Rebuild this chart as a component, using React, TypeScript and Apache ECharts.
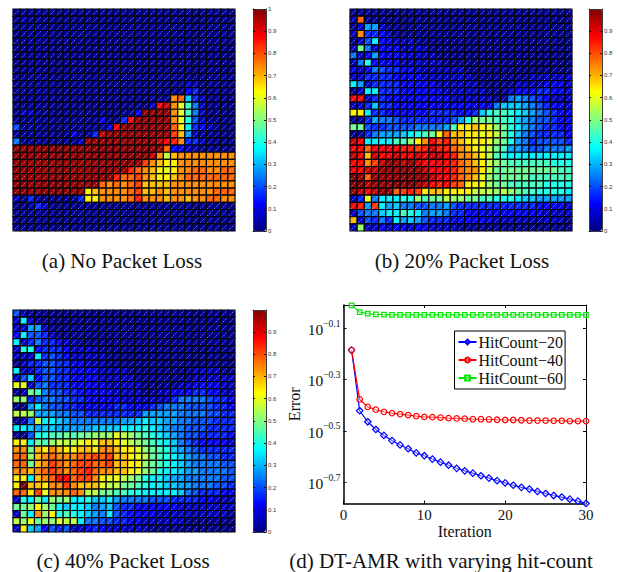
import React, { useEffect, useRef } from "react";
import * as echarts from "echarts";

// Colour-level code for a cell value.
const levelCodes = "abcdefghijklmnopqrstuvwxyz";
const levelValues = [0, 0.02, 0.07, 0.12, 0.16, 0.2, 0.24, 0.28, 0.32, 0.36, 0.4, 0.44, 0.48, 0.52, 0.56, 0.6, 0.64, 0.69, 0.74, 0.78, 0.82, 0.85, 0.88, 0.93, 0.98, 1];

const noLossRows = [
  "bbbbb bbbbb bbbbb bbbbb bbbbb bbbbb b",
  "bcbbb bbbbb bbbbb bbbbb bbbbb bbbbb b",
  "bbbbb bbbbb bbbbb bbbbb bbbbb bbbbb b",
  "bbbbb bbbbb bbbbb bbbbb bbbbb bbbbb b",
  "bbbbb bbbbb bbbbb bbbbb bbbbb bbbbb b",
  "bbbbb bbbbb bbbbb bbbbb bbbbb bbbbb b",
  "bbbbb bbbbb bbbbb bbbbb bbbbb bbbbb b",
  "bbbbb bbbbb bbbbb bbbbb bbbbb bbbbb b",
  "bbbbb bbbbb bbbbb bbbbb bbbbb bbbbb b",
  "bbbbb bbbbb bbbbb bbbbb bbbbb bbbbb b",
  "bbbbb bbbbb bbbbb bbbbb bbbbc cbbbb b",
  "bbbbb bbbbb bbbbb bbbbb bbbbd ebbbb b",
  "bbbbb bbbbb bbbbb bbbbb bbsti ecbbb b",
  "bbbbb bbbbb bbbbb bbbbc wxspl gcbbb b",
  "bccbb bbbbb bbbbb bbdyy yyspl gcbbb b",
  "bbbbb bbbbb bbdbb ewyyy yyspk fcbbb b",
  "fbbbb bbbbb bbbdw yyyyy yytqj edcbb b",
  "bbbbb bbbdb bexyy yyyyy yyurh cbbbb b",
  "gbbbb bbbbc yyyyy yyyyy xwvse ecbbb b",
  "yyyyy yyyyy yyyyy yyyyy ytddc cbbbb b",
  "yyyyy yyyyy yyyyy yyyyx sorss sssss s",
  "yyyyy yyyyy yyyyy yyyus rqqss sssss s",
  "yyyyy yyyyy yyyyy yvtsr qpqss ttsst t",
  "yyyyy yyyyy yyyyv ttusr qqrst ttttt t",
  "yyyyy yyyyy yytst sturr rrsss sssss s",
  "yyyyy yyyyy qrsss sturr srsss ssstt t",
  "cbebb bbbbe qqsss stvss srssr sstts s",
  "bbbec bbbbb bbbbb bbbbb bbbbb bbbbb b",
  "bbbbb bbbbb bbbbb bbbbb bbbbb bbbbb b",
  "bbbbb bbbbb bbbbb bbbbb bbbbb bbbbb b",
  "bbbbb bbbbb bbbbb bbbbb bbbbb bbbbb b",
];
const loss20Rows = [
  "bbbbb bbbbb bbbbb bbbbb bbbbb bbbbb b",
  "ctbbb bbbbb bbbbb bbbbb bbbbb bbbbb b",
  "bchhc bbbbb bbbbb bbbbb bbbbb bbbbb b",
  "cseed cbbbb bbbbb bbbbb bbbbb bbbbb b",
  "bcfjd dcccb bbbbb bbbbb bbbbb bbbbb b",
  "cmgcd ddccc cbbbb bbbbb bbbbb bbbbb b",
  "gcdhd dddcc ccbbb bbbbb bbbbb bbbbb b",
  "cgkdd ddccc cccbb bbbbb bbbbb bbbbb b",
  "dcdgf eeddc ccccc cbbbb bbbbb bbbbb b",
  "cceee edddd ccccc ccbbb bbbbb ccccc c",
  "jhcee eeddd ddccc cccbb bbbcc ccddd c",
  "bcjje eeddd dddcc ccccb bbcdd deedd c",
  "wwcee ddddd ddddc ccccc bbghg fedcc c",
  "cceie edddd ddddd ddddd giiih gfedd c",
  "qqjee ddddd deeee ddeik llkji hgfed d",
  "bbehg gfeee eeeef hknmm llkih gffed d",
  "mmfee ffffg ggghl qqrqp nmkjh gfeed d",
  "bbegh hhijk lmqtr rqqpq omkig feeee d",
  "xwjjj jllnq swuvs rqqqp nmkhg effff e",
  "wwtww wwvvu vxvvt srqpo mlhhg ffggg h",
  "xwrxw wxwwx wxxwv ssrqo lkjjj jjjjj j",
  "wwsux yyxyx wwwwv tsrqo nmlll lllkk k",
  "wwxxy yyyyy xwwwv tssqo mmmmm mmmml l",
  "zytyy yyyzy yxwwv tsrpn mmmmm lllll l",
  "zzxyy yzyzy xwvwu tqqpn mmlll llkkk k",
  "yxwxy ytuvu qrrqq qqooo nonml lkkkk j",
  "cepgj jjkkn lmmon nmmll kkkji ihhhh h",
  "wvhuj higgf fgghf eeeee eeeee edddd c",
  "cfggi jjlkj ghhge edddd ddddd ddccc c",
  "rcfeg ejhih feeed ddddd ccccc ccccc b",
  "cnccd cddcd dcccc bbbbb bbbbb bbbbb b",
];
const loss40Rows = [
  "fcbbb bbbbb bbbbb bbbbb bbbbb bbbbb b",
  "cjcbb bbbbb bbbbb bbbbb bbbbb bbbbb b",
  "cchhc bbbbb bbbbb bbbbb bbbbb bbbbb b",
  "djffe cbbbb bbbbb bbbbb bbbbb bbbbb b",
  "jcege edccb bbbbb bbbbb bbbbb bbbbb b",
  "ckkde eedcc ccbbb bbbbb bbbbb bbbbb b",
  "cccje fedcc cccbb bbbbb bbbbb bbbbb b",
  "bceef feedd cccbb bbbbb bbbbb bbbbb b",
  "jccef feedd ddccc cbbbb bbbbb ccccb b",
  "cfidf feedd ddccc ccbbb bbbbb ccccc c",
  "ppcfg eeedd dddcc cccbb bbbcc ddddc c",
  "bcmlg ffeed ddddc cccbb ccddd eeddc c",
  "nnefg gffee ddddd ccccc ccegg ggfee d",
  "bbhjg ffeed dddde eddde fgggf fffee d",
  "oonhh hggff eeeee eeehh hhhgg ggffe e",
  "bcgoj jihgg ggggg hhiji ihhgg fffee e",
  "jjihi ihhhh hiiii jjjkj ihggf ffeee e",
  "bbfkk llmlm mnnnp onmlk jihgf feeee d",
  "qqjml nooop qprrq ponml kjigf edddd c",
  "ssmrq srqqr rqssr qqpnm lkihg feeee e",
  "ttnrs tssst tutur rqpom lkjih ggffe e",
  "ttmrs utstu uttur rqqnm lkjih ggggf f",
  "ssrst utstu vtssr rqpnm kjjih hgggg f",
  "qqjrs twwtu usqpp onmkj jihhg ggggf f",
  "qzrrq ssusr rrpoo mmlkj jiihh gggff e",
  "ttqup sssts oomml lkkjj jjjig feeed d",
  "ckjmj nmnjj kiijh ggggf ffeee eddcc c",
  "mmnqn mjijj ighif eeddd dddcc ccccc c",
  "cmjsn qklkj ihgjf edddd ccccc ccccc b",
  "onpmn npooj ggffe eddcc ccccb bbbbb b",
  "cqihd fefcc dedcc ccccb bbbbb bbbbb b",
];

const iterations = [1, 2, 3, 4, 5, 6, 7, 8, 9, 10, 11, 12, 13, 14, 15, 16, 17, 18, 19, 20, 21, 22, 23, 24, 25, 26, 27, 28, 29, 30];
// log10(Error)
const hit20 = [-0.186, -0.422, -0.465, -0.495, -0.518, -0.538, -0.555, -0.57, -0.586, -0.597, -0.61, -0.622, -0.634, -0.646, -0.656, -0.665, -0.675, -0.684, -0.694, -0.703, -0.712, -0.72, -0.727, -0.736, -0.744, -0.752, -0.758, -0.766, -0.774, -0.783];
const hit40 = [-0.186, -0.378, -0.407, -0.418, -0.426, -0.431, -0.435, -0.439, -0.443, -0.446, -0.447, -0.449, -0.451, -0.452, -0.453, -0.455, -0.455, -0.456, -0.457, -0.458, -0.458, -0.459, -0.46, -0.46, -0.46, -0.461, -0.461, -0.462, -0.462, -0.462];
const hit60 = [-0.012, -0.038, -0.044, -0.047, -0.048, -0.049, -0.049, -0.049, -0.049, -0.049, -0.049, -0.049, -0.049, -0.049, -0.049, -0.049, -0.049, -0.049, -0.049, -0.049, -0.049, -0.049, -0.049, -0.049, -0.049, -0.049, -0.049, -0.049, -0.049, -0.049];
const errorTicks = [-0.7, -0.5, -0.3, -0.1];
const iterTicks = [0, 10, 20, 30];
const colorTicks = [0, 0.1, 0.2, 0.3, 0.4, 0.5, 0.6, 0.7, 0.8, 0.9];
const colorTicksFull = [...colorTicks, 1];
const jet = ["#000080", "#0000ff", "#0080ff", "#00ffff", "#80ff80", "#ffff00", "#ff8000", "#ff0000", "#800000"];

const captions = [
  { text: "(a) No Packet Loss", x: 122, y: 261 },
  { text: "(b) 20% Packet Loss", x: 462, y: 261 },
  { text: "(c) 40% Packet Loss", x: 123, y: 561 },
  { text: "(d) DT-AMR with varying hit-count", x: 441, y: 561 },
];

const SERIF = "Liberation Serif";
const SANS = "Liberation Sans";
const N = 31;

function decode(rows: string[]) {
  const out: number[][] = [];
  rows.forEach((row, r) => {
    row.replace(/ /g, "").split("").forEach((ch, c) => {
      out.push([c, r, levelValues[levelCodes.indexOf(ch)]]);
    });
  });
  return out;
}

function renderCell(_: any, api: any) {
  const c = api.value(0);
  const r = api.value(1);
  const p0 = api.coord([c, r + 1]);
  const p1 = api.coord([c + 1, r]);
  return {
    type: "group",
    children: [
      {
        type: "rect",
        shape: { x: p0[0], y: p1[1], width: p1[0] - p0[0], height: p0[1] - p1[1] },
        style: { fill: api.visual("color"), stroke: "#04040c", lineWidth: 1.2 },
      },
      {
        type: "line",
        shape: { x1: p0[0] + 0.6, y1: p0[1] - 0.6, x2: p1[0] - 0.6, y2: p1[1] + 0.6 },
        style: { stroke: "rgba(255,255,255,0.5)", lineWidth: 1, lineDash: [1.4, 1] },
      },
    ],
  };
}

const panels = [
  { rows: noLossRows, x: 13, y: 9, barX: 253, max: 1, ticks: colorTicksFull },
  { rows: loss20Rows, x: 350, y: 9, barX: 589, max: 0.998, ticks: colorTicks },
  { rows: loss40Rows, x: 13, y: 310, barX: 253, max: 0.998, ticks: colorTicks },
];

function buildOption() {
  const grid: any[] = [];
  const xAxis: any[] = [];
  const yAxis: any[] = [];
  const series: any[] = [];
  const visualMap: any[] = [];

  panels.forEach((p, i) => {
    const gi = grid.length;
    grid.push({ left: p.x, top: p.y, width: 222, height: 222 });
    xAxis.push({ gridIndex: gi, type: "value", min: 0, max: N, show: false });
    yAxis.push({ gridIndex: gi, type: "value", min: 0, max: N, inverse: true, show: false });
    series.push({
      type: "custom",
      name: "panel" + i,
      xAxisIndex: xAxis.length - 1,
      yAxisIndex: yAxis.length - 1,
      data: decode(p.rows),
      renderItem: renderCell,
      encode: { x: 0, y: 1 },
      silent: true,
    });
    visualMap.push({
      type: "continuous",
      seriesIndex: series.length - 1,
      dimension: 2,
      min: 0,
      max: p.max,
      left: p.barX,
      top: p.y,
      itemWidth: 13,
      itemHeight: 222,
      padding: 0,
      calculable: false,
      hoverLink: false,
      inRange: { color: jet },
    });

    const bi = grid.length;
    grid.push({ left: p.barX, top: p.y, width: 13, height: 222 });
    const lineStyle = { color: "#3a3a3a", width: 1 };
    const ticks = { show: true, inside: true, length: 2, customValues: p.ticks, lineStyle: { color: "#111", width: 1 } };
    xAxis.push({ gridIndex: bi, type: "value", min: 0, max: 1, position: "bottom", z: 10, axisLine: { show: true, onZero: false, lineStyle }, axisTick: { show: false }, axisLabel: { show: false }, splitLine: { show: false } });
    xAxis.push({ gridIndex: bi, type: "value", min: 0, max: 1, position: "top", z: 10, axisLine: { show: true, onZero: false, lineStyle }, axisTick: { show: false }, axisLabel: { show: false }, splitLine: { show: false } });
    yAxis.push({
      gridIndex: bi, type: "value", min: 0, max: p.max, position: "right", z: 10,
      axisLine: { show: true, onZero: false, lineStyle },
      axisTick: ticks,
      axisLabel: {
        show: true, inside: false, margin: 2, customValues: p.ticks, fontFamily: SANS, fontSize: 6, color: "#333",
        showMinLabel: true, showMaxLabel: true,
        formatter: (v: number) => String(Math.round(v * 10) / 10),
      },
      splitLine: { show: false },
    });
    yAxis.push({
      gridIndex: bi, type: "value", min: 0, max: p.max, position: "left", z: 10,
      axisLine: { show: true, onZero: false, lineStyle },
      axisTick: ticks,
      axisLabel: { show: false },
      splitLine: { show: false },
    });
  });

  // line panel
  const gi = grid.length;
  const L = { left: 343.5, top: 305, width: 242.5, height: 198.5 };
  grid.push(L);
  const black = { color: "#000", width: 1 };
  const xTick = { show: true, inside: true, length: 3, customValues: iterTicks, lineStyle: black };
  const yTick = { show: true, inside: true, length: 3, customValues: errorTicks, lineStyle: black };
  const yMin = -0.783;
  const yMax = -0.0104;
  const xi = xAxis.length;
  xAxis.push({
    gridIndex: gi, type: "value", min: 0, max: 30, position: "bottom",
    axisLine: { show: true, onZero: false, lineStyle: { color: "#000", width: 1.5 } },
    axisTick: xTick,
    axisLabel: { customValues: iterTicks, margin: 4, fontFamily: SERIF, fontSize: 15, color: "#111", showMinLabel: true, showMaxLabel: true },
    splitLine: { show: false },
    name: "Iteration", nameLocation: "center", nameGap: 13,
    nameTextStyle: { fontFamily: SERIF, fontSize: 16, color: "#111" },
  });
  xAxis.push({
    gridIndex: gi, type: "value", min: 0, max: 30, position: "top",
    axisLine: { show: true, onZero: false, lineStyle: black },
    axisTick: xTick, axisLabel: { show: false }, splitLine: { show: false },
  });
  const yi = yAxis.length;
  yAxis.push({
    gridIndex: gi, type: "value", min: yMin, max: yMax, position: "left",
    axisLine: { show: true, onZero: false, lineStyle: { color: "#000", width: 1.5 } },
    axisTick: yTick,
    axisLabel: {
      customValues: errorTicks, margin: 3, color: "#111",
      formatter: (v: number) => "{b|10}{s|\u2212" + Math.abs(v).toFixed(1) + "}",
      rich: {
        b: { fontFamily: SERIF, fontSize: 15.5, color: "#111", verticalAlign: "bottom", lineHeight: 19 },
        s: { fontFamily: SERIF, fontSize: 9.5, color: "#111", verticalAlign: "top", lineHeight: 19 },
      },
    },
    splitLine: { show: false },
    name: "Error", nameLocation: "center", nameGap: 41,
    nameTextStyle: { fontFamily: SERIF, fontSize: 16, color: "#111" },
  });
  yAxis.push({
    gridIndex: gi, type: "value", min: yMin, max: yMax, position: "right",
    axisLine: { show: true, onZero: false, lineStyle: black },
    axisTick: yTick, axisLabel: { show: false }, splitLine: { show: false },
  });

  const lines = [
    { name: "HitCount\u221220", data: hit20, color: "#0000ff", symbol: "diamond", size: 6.5 },
    { name: "HitCount\u221240", data: hit40, color: "#ff0000", symbol: "circle", size: 5.5 },
    { name: "HitCount\u221260", data: hit60, color: "#00e600", symbol: "rect", size: 4.5 },
  ];
  lines.forEach((l) => {
    series.push({
      type: "line",
      name: l.name,
      xAxisIndex: xi,
      yAxisIndex: yi,
      data: iterations.map((it, k) => [it, l.data[k]]),
      symbol: l.symbol,
      symbolSize: l.size,
      showSymbol: true,
      showAllSymbol: true,
      clip: false,
      z: 5,
      lineStyle: { color: l.color, width: 1.2 },
      itemStyle: { color: "rgba(255,255,255,0.35)", borderColor: l.color, borderWidth: 1.2 },
    });
  });

  return {
    animation: false,
    backgroundColor: "#fff",
    grid,
    xAxis,
    yAxis,
    series,
    visualMap,
    legend: {
      data: lines.map((l) => l.name),
      orient: "vertical",
      left: 454.5,
      top: 331,
      padding: [3, 2, 3, 3],
      itemGap: 2,
      itemWidth: 18,
      itemHeight: 6,
      backgroundColor: "#fff",
      borderColor: "#000",
      borderWidth: 1,
      z: 20,
      textStyle: { fontFamily: SERIF, fontSize: 16, color: "#111", padding: [0, 0, 0, -3] },
    },
    graphic: captions.map((c) => ({
      type: "text",
      x: c.x,
      y: c.y,
      style: { text: c.text, fontFamily: SERIF, fontSize: 21, fill: "#111", align: "center", verticalAlign: "middle" },
    })),
  };
}

export default function App() {
  const ref = useRef<HTMLDivElement>(null);
  useEffect(() => {
    document.body.style.margin = "0";
    const chart = echarts.init(ref.current!, undefined, { renderer: "svg" });
    chart.setOption(buildOption() as any);
    return () => chart.dispose();
  }, []);
  return <div ref={ref} style={{ width: 620, height: 572 }} />;
}
